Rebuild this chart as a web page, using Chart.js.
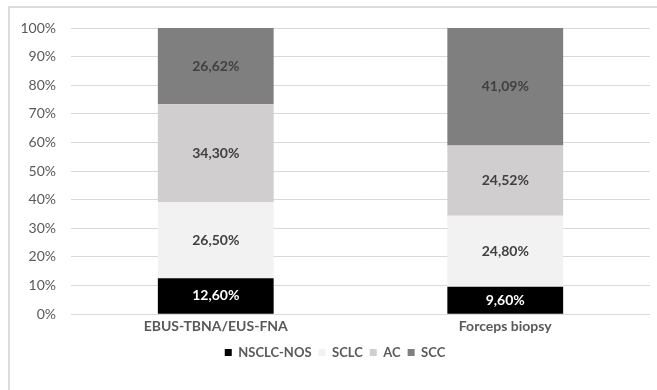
<!DOCTYPE html>
<html>
<head>
<meta charset="utf-8">
<script src="https://cdn.jsdelivr.net/npm/chart.js@4/dist/chart.umd.min.js"></script>
<style>
  body { margin: 0; background: #fff; }
  #wrap { position: relative; width: 657px; height: 390px; overflow: hidden; }
  #frame { position: absolute; left: 8px; top: 6px; width: 700px; height: 450px; border: 2px solid #dcdcdc; box-sizing: border-box; }
  canvas { position: absolute; left: 0; top: 0; }
</style>
</head>
<body>
<div id="wrap">
  <div id="frame"></div>
  <canvas id="chart" width="657" height="390"></canvas>
</div>
<script>
// categories and series (percent of each group)
const categories = ['EBUS-TBNA/EUS-FNA', 'Forceps biopsy'];
const seriesNames = ['NSCLC-NOS', 'SCLC', 'AC', 'SCC'];
const nsclcNos = [12.60, 9.60];
const sclc = [26.50, 24.80];
const ac = [34.30, 24.52];
const scc = [26.62, 41.09];
const yTicks = [0, 10, 20, 30, 40, 50, 60, 70, 80, 90, 100];

const colors = ['#000000', '#f2f2f2', '#d0cece', '#7f7f7f'];
const labelColors = ['#ffffff', '#404040', '#404040', '#404040'];
const font = 'Lato, "DejaVu Sans", sans-serif';

// write the value in the middle of each segment
const segmentLabels = {
  id: 'segmentLabels',
  afterDatasetsDraw(chart) {
    const ctx = chart.ctx;
    ctx.save();
    ctx.font = 'bold 14px ' + font;
    ctx.textAlign = 'center';
    ctx.textBaseline = 'middle';
    chart.data.datasets.forEach((ds, i) => {
      chart.getDatasetMeta(i).data.forEach((bar, j) => {
        ctx.fillStyle = labelColors[i];
        const txt = ds.data[j].toFixed(2).replace('.', ',') + '%';
        ctx.fillText(txt, bar.x, (bar.y + bar.base) / 2);
      });
    });
    ctx.restore();
  }
};

// nudge the legend to where it sits in the original
const legendShift = {
  id: 'legendShift',
  afterLayout(chart) {
    chart.legend.left += 10;
    chart.legend.right += 10;
  }
};

const series = [nsclcNos, sclc, ac, scc];

new Chart(document.getElementById('chart').getContext('2d'), {
  type: 'bar',
  data: {
    labels: categories,
    datasets: series.map((d, i) => ({
      label: seriesNames[i],
      data: d,
      backgroundColor: colors[i],
      borderWidth: 0,
      barPercentage: 0.4,
      categoryPercentage: 1
    }))
  },
  options: {
    responsive: false,
    animation: false,
    layout: { padding: { left: 0, right: 7, top: 28, bottom: 21 } },
    plugins: {
      tooltip: { enabled: false },
      legend: {
        position: 'bottom',
        labels: {
          boxWidth: 7,
          boxHeight: 7,
          padding: 7,
          color: '#595959',
          font: { family: font, size: 13, weight: 'bold' }
        }
      }
    },
    scales: {
      x: {
        stacked: true,
        grid: { display: false, drawTicks: false },
        border: { display: false },
        ticks: { padding: 4, color: '#595959', font: { family: font, size: 14, weight: 'bold' } }
      },
      y: {
        stacked: true,
        min: 0,
        max: 100,
        afterBuildTicks(scale) { scale.ticks = yTicks.map(v => ({ value: v })); },
        afterFit(scale) { scale.width = 71; },
        grid: { color: '#d9d9d9', drawTicks: false },
        border: { display: false },
        ticks: {
          padding: 15,
          color: '#595959',
          font: { family: font, size: 14 },
          callback: v => v + '%'
        }
      }
    }
  },
  plugins: [segmentLabels, legendShift]
});
</script>
</body>
</html>
